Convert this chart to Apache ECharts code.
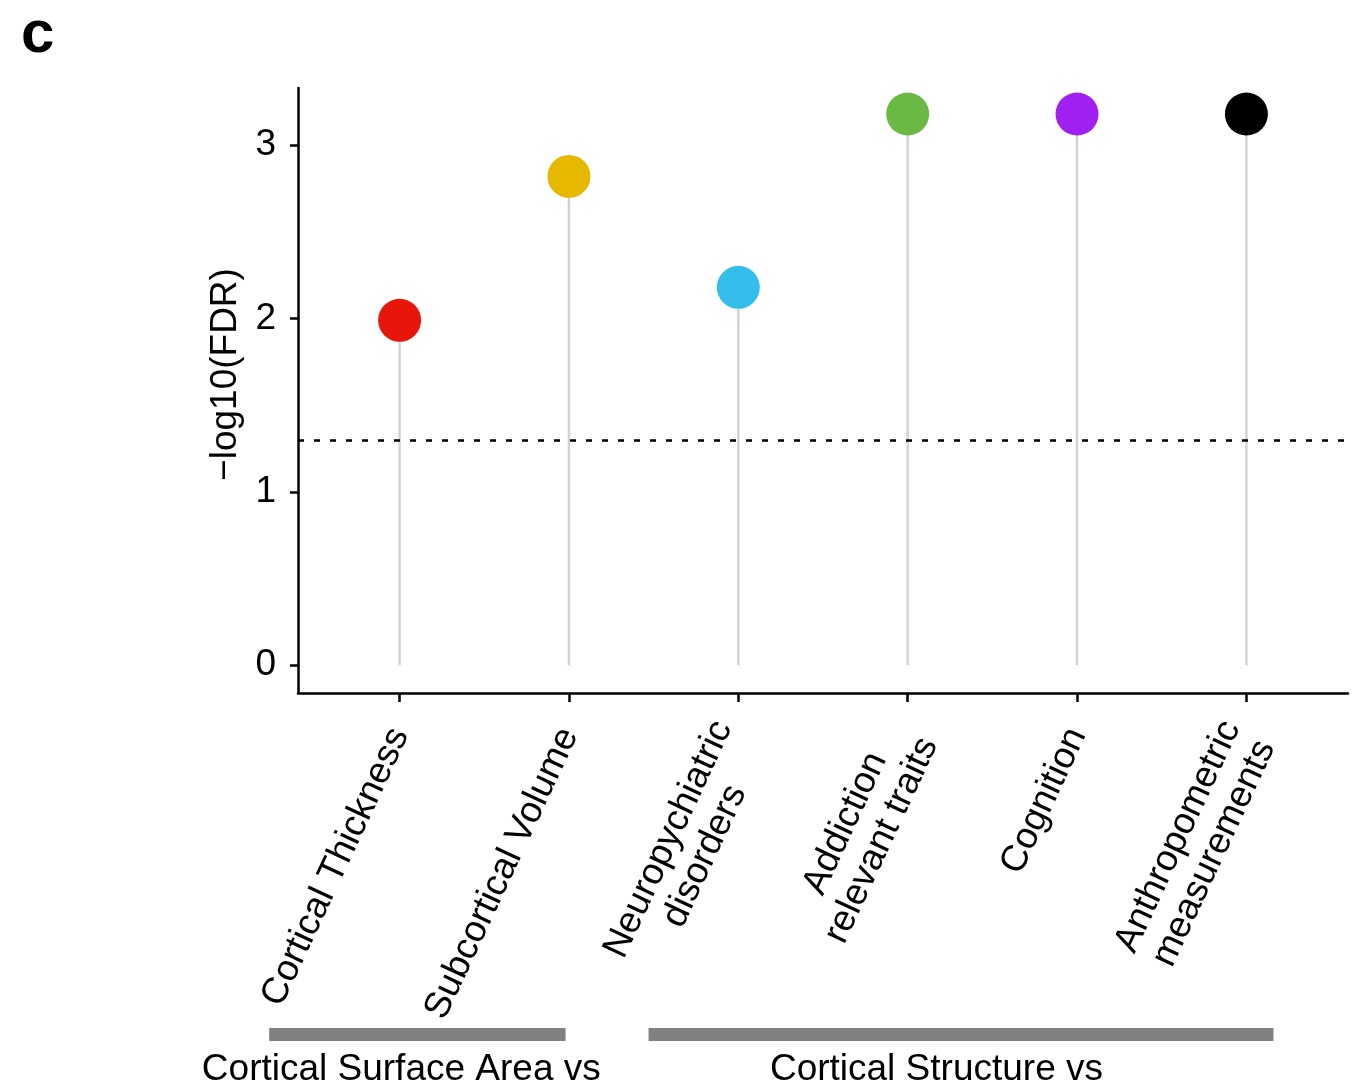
<!DOCTYPE html>
<html>
<head>
<meta charset="utf-8">
<script src="https://cdn.jsdelivr.net/npm/echarts@6/dist/echarts.min.js"></script>
<style>
  html, body { margin: 0; padding: 0; background: #ffffff; }
  #chart { width: 1367px; height: 1090px; }
</style>
</head>
<body>
<div id="chart"></div>
<script>
// Trait categories along the x axis (line breaks are part of the labels)
const categories = [
  'Cortical Thickness',
  'Subcortical Volume',
  'Neuropychiatric\ndisorders',
  'Addiction\nrelevant traits',
  'Cognition',
  'Anthropometric\nmeasurements'
];
const positions = [1, 2, 3, 4, 5, 6];
// -log10(FDR) for each category
const values = [1.99, 2.82, 2.18, 3.18, 3.18, 3.18];
const pointColors = ['#E8150A', '#E6B900', '#33BDEA', '#69B944', '#A020F0', '#000000'];
const yTicks = [0, 1, 2, 3];
// FDR = 0.05 significance line
const threshold = 1.301;

// Grouping bars beneath the axis labels
const groupLabels = ['Cortical Surface Area vs', 'Cortical Structure vs'];
const groupStart = [0.23, 2.47];
const groupEnd = [1.98, 6.16];
const groupLabelAt = [1.01, 4.17];

const FONT = "'Liberation Sans', Arial, Helvetica, sans-serif";
const FS = 37;

const chart = echarts.init(document.getElementById('chart'), null, { renderer: 'canvas' });

// Multi-line tick labels: lines centred on each other, block pushed slightly away from the axis
const labelRich = {
  s: { align: 'center', fontSize: FS, fontFamily: FONT, color: '#000', lineHeight: 46 },
  f: { align: 'center', fontSize: FS, fontFamily: FONT, color: '#000', lineHeight: 46, padding: [12, 0, 0, 0] },
  c: { align: 'center', fontSize: FS, fontFamily: FONT, color: '#000', lineHeight: 46 }
};

function formatCategory(v) {
  const s = categories[Math.round(v) - 1] || '';
  const lines = s.split('\n');
  if (lines.length === 1) return '{s|' + s + '}';
  return lines.map(function (t, i) { return (i === 0 ? '{f|' : '{c|') + t + '}'; }).join('\n');
}

const option = {
  backgroundColor: '#ffffff',
  animation: false,
  title: {
    text: 'c',
    left: 16,
    top: 0,
    textStyle: { fontSize: 60, fontWeight: 'bold', fontFamily: FONT, color: '#000' }
  },
  grid: [
    { left: 298, right: 19, top: 88, bottom: 397 },
    { left: 298, right: 19, top: 1028, height: 13 }
  ],
  xAxis: [
    {
      type: 'value',
      gridIndex: 0,
      min: 0.4,
      max: 6.6,
      splitLine: { show: false },
      axisLine: { onZero: false, lineStyle: { color: '#000', width: 2.5 } },
      axisTick: { customValues: positions, length: 9, lineStyle: { color: '#000', width: 2.5 } },
      axisLabel: {
        customValues: positions,
        rotate: 65,
        margin: 37,
        formatter: formatCategory,
        rich: labelRich
      }
    },
    {
      type: 'value',
      gridIndex: 1,
      min: 0.4,
      max: 6.6,
      show: false
    }
  ],
  yAxis: [
    {
      type: 'value',
      gridIndex: 0,
      min: -0.16,
      max: 3.33,
      name: '\u2212log10(FDR)',
      nameLocation: 'middle',
      nameRotate: 90,
      nameGap: 32,
      nameTextStyle: { fontSize: FS, fontFamily: FONT, color: '#000', padding: [0, 0, 0, 32] },
      splitLine: { show: false },
      axisLine: { onZero: false, lineStyle: { color: '#000', width: 2.5 } },
      axisTick: { customValues: yTicks, length: 8, lineStyle: { color: '#000', width: 2.5 } },
      axisLabel: {
        customValues: yTicks,
        margin: 22,
        fontSize: FS,
        fontFamily: FONT,
        color: '#000'
      }
    },
    {
      type: 'value',
      gridIndex: 1,
      min: 0,
      max: 1,
      show: false
    }
  ],
  series: [
    {
      // grey stems from zero to each point
      type: 'custom',
      xAxisIndex: 0,
      yAxisIndex: 0,
      data: positions.map(function (p, i) { return [p, values[i]]; }),
      renderItem: function (params, api) {
        const base = api.coord([api.value(0), 0]);
        const top = api.coord([api.value(0), api.value(1)]);
        return {
          type: 'line',
          shape: { x1: base[0], y1: base[1], x2: top[0], y2: top[1] },
          style: { stroke: '#D3D3D3', lineWidth: 2.5 }
        };
      },
      z: 1
    },
    {
      type: 'scatter',
      xAxisIndex: 0,
      yAxisIndex: 0,
      symbol: 'circle',
      symbolSize: 43,
      data: positions.map(function (p, i) {
        return { value: [p, values[i]], itemStyle: { color: pointColors[i], opacity: 1 } };
      }),
      z: 3,
      markLine: {
        silent: true,
        symbol: ['none', 'none'],
        label: { show: false },
        lineStyle: { color: '#000', width: 2.5, type: [6, 10] },
        data: [{ yAxis: threshold }],
        z: 2
      }
    },
    {
      // group bars and their captions
      type: 'custom',
      xAxisIndex: 1,
      yAxisIndex: 1,
      data: groupLabels.map(function (g, i) { return [groupStart[i], groupEnd[i], groupLabelAt[i], i]; }),
      renderItem: function (params, api) {
        const a = api.coord([api.value(0), 1]);
        const b = api.coord([api.value(1), 0]);
        const t = api.coord([api.value(2), 0]);
        return {
          type: 'group',
          children: [
            {
              type: 'rect',
              shape: { x: a[0], y: a[1], width: b[0] - a[0], height: b[1] - a[1] },
              style: { fill: '#808080' }
            },
            {
              type: 'text',
              x: t[0],
              y: b[1] + 10,
              style: {
                text: groupLabels[api.value(3)],
                align: 'center',
                verticalAlign: 'top',
                fontSize: FS,
                fontFamily: FONT,
                fill: '#000'
              }
            }
          ]
        };
      }
    }
  ]
};

chart.setOption(option);
</script>
</body>
</html>
